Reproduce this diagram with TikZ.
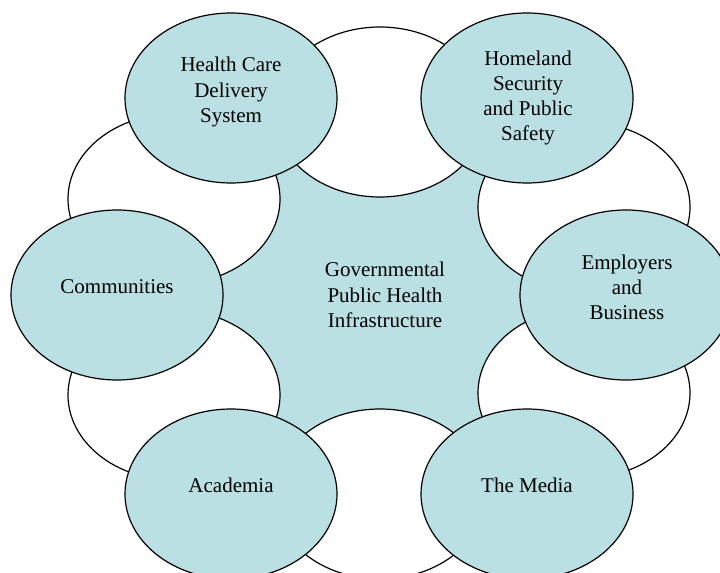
\documentclass[tikz,border=0pt]{standalone}
\usepackage{fontspec}
\setmainfont{Liberation Serif}
\usetikzlibrary{shapes.geometric}
\definecolor{paleblue}{RGB}{187,224,227}
\tikzset{
  oval/.style={ellipse, draw=black, line width=0.9pt, inner sep=0pt,
    minimum width=159pt, minimum height=127.5pt},
  blueoval/.style={oval, fill=paleblue},
  whiteoval/.style={oval, fill=white},
  lbl/.style={align=center, inner sep=0pt, font=\fontsize{15.75}{18.9}\selectfont}
}
\begin{document}
\begin{tikzpicture}[x=0.75pt, y=-0.75pt]
\useasboundingbox (0,0) rectangle (720,573);
% centre positions
\coordinate (c1) at (231,98);
\coordinate (c2) at (380,112);
\coordinate (c3) at (527,98);
\coordinate (c4) at (584,207);
\coordinate (c5) at (626,295);
\coordinate (c6) at (584,393);
\coordinate (c7) at (527,494);
\coordinate (c8) at (380,494);
\coordinate (c9) at (231,494);
\coordinate (c10) at (174,395);
\coordinate (c11) at (117,295);
\coordinate (c12) at (174,199);
% central region
\fill[paleblue] (c1) -- (c2) -- (c3) -- (c4) -- (c5) -- (c6) -- (c7) -- (c8) -- (c9) -- (c10) -- (c11) -- (c12) -- cycle;
% white ovals
\node[whiteoval] (wt) at (c2) {};
\node[whiteoval] (wur) at (c4) {};
\node[whiteoval] (wlr) at (c6) {};
\node[whiteoval] (wb) at (c8) {};
\node[whiteoval] (wll) at (c10) {};
\node[whiteoval] (wul) at (c12) {};
% blue ovals
\node[blueoval] (hc) at (c1) {};
\node[blueoval] (hs) at (c3) {};
\node[blueoval] (eb) at (c5) {};
\node[blueoval] (tm) at (c7) {};
\node[blueoval] (ac) at (c9) {};
\node[blueoval] (cm) at (c11) {};
% labels
\node[lbl] (hct) at (231,92) {Health Care\\Delivery\\System};
\node[lbl] (hst) at (528,98) {Homeland\\Security\\and Public\\Safety};
\node[lbl] (ebt) at (627,287.5) {Employers\\and\\Business};
\node[lbl] (cmt) at (117,287) {Communities};
\node[lbl] (act) at (231,485) {Academia};
\node[lbl] (tmt) at (527,485) {The Media};
\node[lbl] (gov) at (385,295) {Governmental\\Public Health\\Infrastructure};
\end{tikzpicture}
\end{document}
